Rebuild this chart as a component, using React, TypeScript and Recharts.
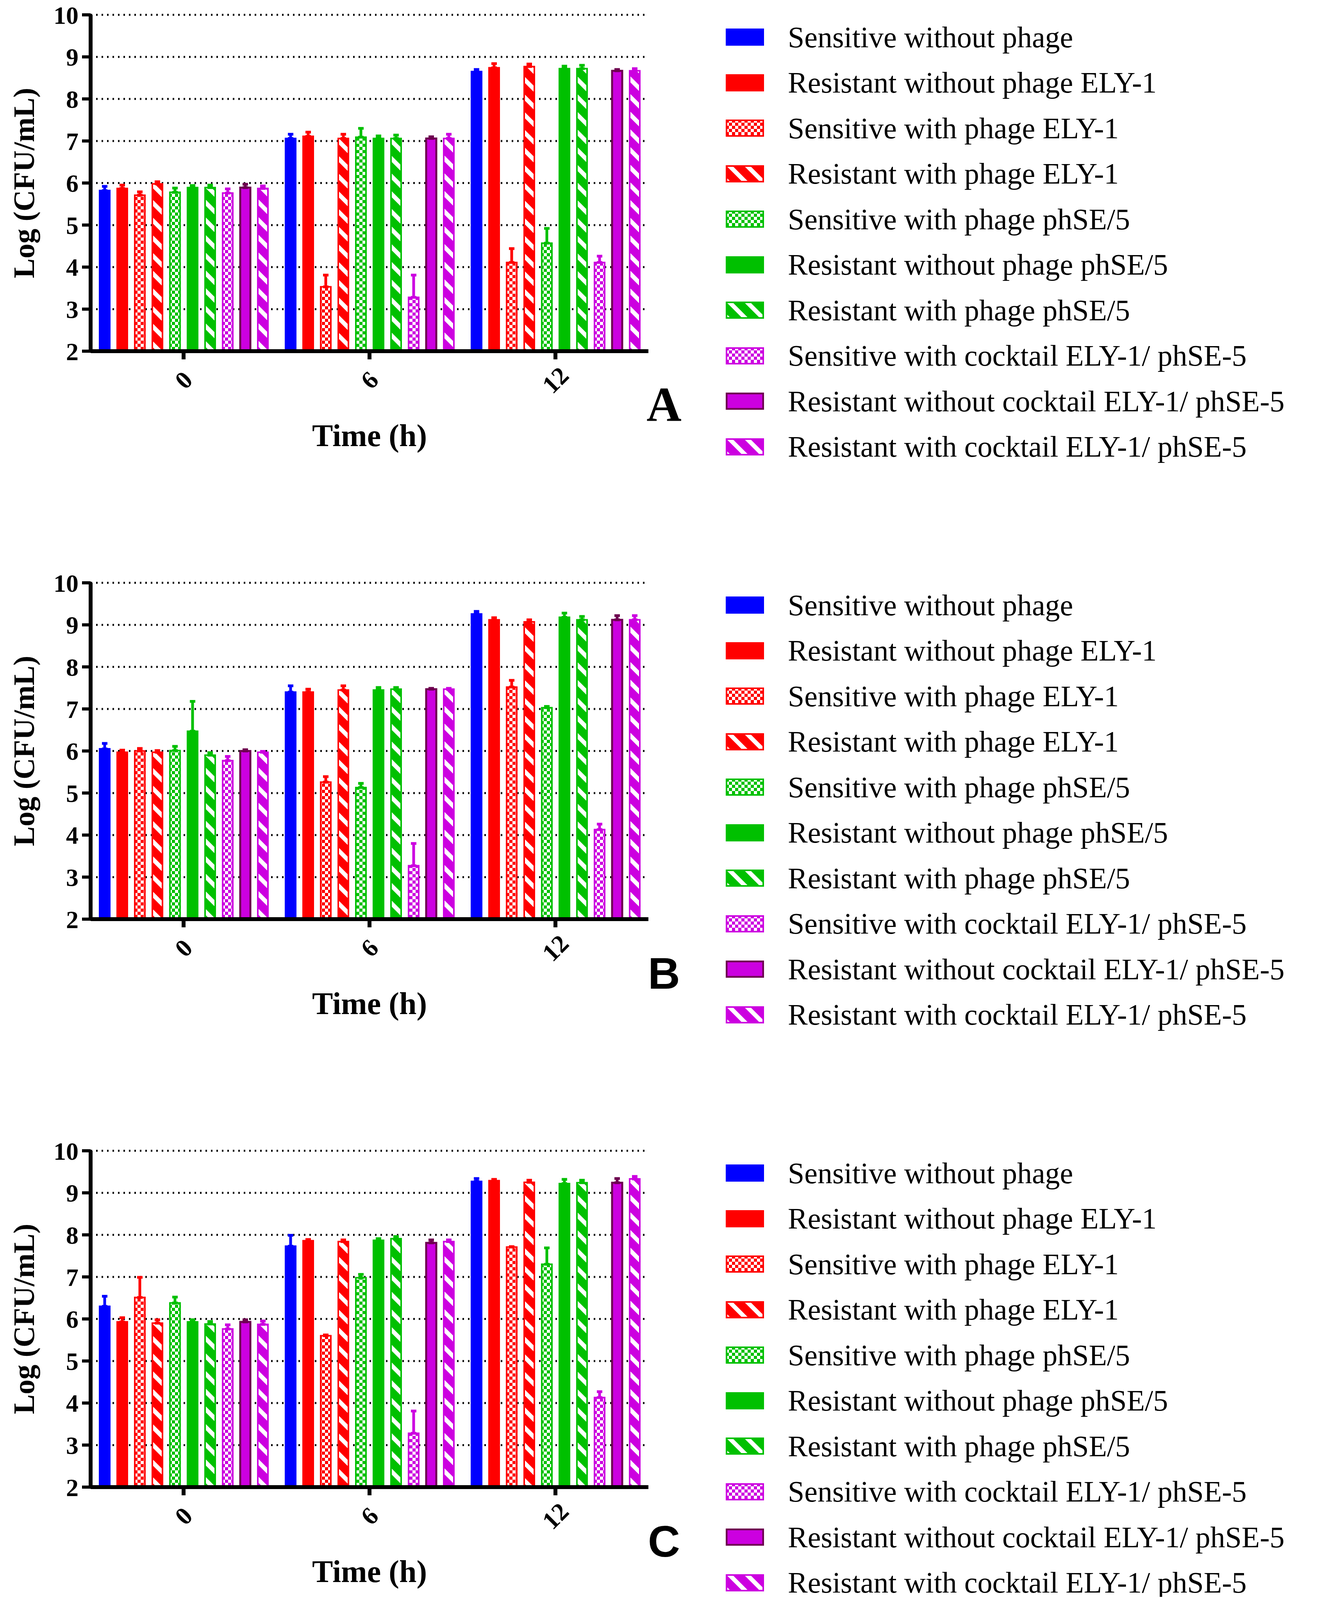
import React from 'react';
import { BarChart, Bar, XAxis, YAxis, CartesianGrid, ErrorBar, Legend } from 'recharts';

// sampling times (h)
const TIMES = ['0', '6', '12'];

const SERIES = [
    'Sensitive without phage',
    'Resistant without phage ELY-1',
    'Sensitive with phage ELY-1',
    'Resistant with phage ELY-1',
    'Sensitive with phage phSE/5',
    'Resistant without phage phSE/5',
    'Resistant with phage phSE/5',
    'Sensitive with cocktail ELY-1/ phSE-5',
    'Resistant without cocktail ELY-1/ phSE-5',
    'Resistant with cocktail ELY-1/ phSE-5',
];

const Y_TICKS = [2, 3, 4, 5, 6, 7, 8, 9, 10];

// Panel A, mean log CFU/mL and upper error, per series
const A_MEAN_0 = [5.82, 5.87, 5.71, 5.98, 5.78, 5.89, 5.89, 5.76, 5.89, 5.87];
const A_ERR_0 = [0.1, 0.08, 0.08, 0.05, 0.1, 0.05, 0.06, 0.1, 0.08, 0.06];
const A_MEAN_6 = [7.06, 7.11, 3.53, 7.06, 7.09, 7.06, 7.06, 3.28, 7.06, 7.06];
const A_ERR_6 = [0.1, 0.1, 0.28, 0.1, 0.21, 0.06, 0.08, 0.53, 0.04, 0.1];
const A_MEAN_12 = [8.65, 8.74, 4.11, 8.77, 4.57, 8.72, 8.72, 4.11, 8.67, 8.67];
const A_ERR_12 = [0.05, 0.1, 0.33, 0.06, 0.35, 0.06, 0.08, 0.15, 0.03, 0.05];

// Panel B
const B_MEAN_0 = [6.05, 5.97, 6.0, 5.97, 6.01, 6.47, 5.9, 5.77, 6.0, 5.97];
const B_ERR_0 = [0.13, 0.05, 0.06, 0.04, 0.1, 0.71, 0.06, 0.1, 0.03, 0.02];
const B_MEAN_6 = [7.4, 7.4, 5.26, 7.45, 5.13, 7.45, 7.47, 3.27, 7.47, 7.47];
const B_ERR_6 = [0.15, 0.07, 0.13, 0.1, 0.1, 0.06, 0.04, 0.53, 0.02, 0.02];
const B_MEAN_12 = [9.26, 9.12, 7.52, 9.07, 7.03, 9.18, 9.12, 4.13, 9.12, 9.12];
const B_ERR_12 = [0.06, 0.05, 0.16, 0.05, 0.03, 0.1, 0.08, 0.13, 0.1, 0.1];

// Panel C
const C_MEAN_0 = [6.3, 5.93, 6.51, 5.9, 6.38, 5.93, 5.88, 5.76, 5.93, 5.87];
const C_ERR_0 = [0.24, 0.1, 0.48, 0.08, 0.14, 0.05, 0.06, 0.1, 0.05, 0.08];
const C_MEAN_6 = [7.73, 7.86, 5.6, 7.84, 6.98, 7.87, 7.91, 3.28, 7.81, 7.84];
const C_ERR_6 = [0.26, 0.03, 0.02, 0.04, 0.08, 0.04, 0.05, 0.53, 0.07, 0.04];
const C_MEAN_12 = [9.27, 9.29, 7.71, 9.25, 7.3, 9.22, 9.24, 4.13, 9.24, 9.33];
const C_ERR_12 = [0.07, 0.03, 0.01, 0.05, 0.39, 0.1, 0.06, 0.14, 0.1, 0.06];

// styles
const SERIF = "'Liberation Serif', 'Times New Roman', serif";
const SANS = "'Liberation Sans', Arial, sans-serif";
const SERIES_COLOR = ['#0000ff', '#ff0000', '#ff0000', '#ff0000', '#00c000', '#00c000', '#00c000', '#cc00e0', '#cc00e0', '#cc00e0'];
const SERIES_KIND = ['solid', 'solid', 'check', 'stripe', 'check', 'solid', 'stripe', 'check', 'solid', 'stripe'];
const DARK_PURPLE = '#6e0050';
const PATTERN_COLORS: Record<string, string> = { red: '#ff0000', green: '#00c000', mag: '#cc00e0' };

// the viewport only shows 4096px, so the vertical layout is squeezed to fit
const W = 3405;
const H = 4096;
const SY = H / 4466;
const PANEL_H = Math.round(1585 * SY);
const PLOT_TOP = Math.round(41 * SY);
const PLOT_BOTTOM = Math.round(980 * SY);
const X_AXIS_H = 300;
const ROW_H = 127 * SY;

function colorKey(c: string) {
    return Object.keys(PATTERN_COLORS).find(k => PATTERN_COLORS[k] === c) || 'red';
}

function fillFor(prefix: string, i: number) {
    const kind = SERIES_KIND[i];
    if (kind === 'solid') return SERIES_COLOR[i];
    return `url(#${prefix}-${kind}-${colorKey(SERIES_COLOR[i])})`;
}

function strokeFor(i: number) {
    return i === 8 ? DARK_PURPLE : SERIES_COLOR[i];
}

const seriesIndex = (item: any) => Number(String(item.dataKey).slice(1));

function buildRows(means: number[][], errs: number[][]) {
    return TIMES.map((t, ti) => {
        const row: any = { time: t };
        SERIES.forEach((_, si) => {
            row['s' + si] = means[ti][si];
            row['e' + si] = [0, errs[ti][si]];
        });
        return row;
    });
}

const PatternDefs = ({ prefix }: { prefix: string }) => (
    <defs>
        {Object.keys(PATTERN_COLORS).map(k => (
            <React.Fragment key={k}>
                <pattern id={`${prefix}-check-${k}`} patternUnits="userSpaceOnUse" width={16} height={16}>
                    <rect width={16} height={16} fill="#fff" />
                    <rect width={8} height={8} fill={PATTERN_COLORS[k]} />
                    <rect x={8} y={8} width={8} height={8} fill={PATTERN_COLORS[k]} />
                </pattern>
                <pattern id={`${prefix}-stripe-${k}`} patternUnits="userSpaceOnUse" width={32} height={32} patternTransform="rotate(-45)">
                    <rect width={32} height={32} fill={PATTERN_COLORS[k]} />
                    <rect width={11} height={32} fill="#fff" />
                </pattern>
            </React.Fragment>
        ))}
    </defs>
);

const XTick = ({ x, y, payload }: any) => {
    const cy = y + 53;
    return (
        <text x={x} y={cy} transform={`rotate(-45 ${x} ${cy})`} textAnchor="middle" dominantBaseline="central"
            fontFamily={SERIF} fontWeight="bold" fontSize={64} fill="#000">
            {payload.value}
        </text>
    );
};

const YLabel = (props: any) => {
    const vb = props.viewBox || {};
    const cy = vb.height ? vb.y + vb.height / 2 : (PLOT_TOP + PLOT_BOTTOM) / 2;
    const x = 87;
    return (
        <text x={x} y={cy} transform={`rotate(-90 ${x} ${cy})`} textAnchor="middle"
            fontFamily={SERIF} fontWeight="bold" fontSize={76} fill="#000">
            Log (CFU/mL)
        </text>
    );
};

const makeLegend = (prefix: string) => (props: any) => {
    const items = [...(props.payload || [])].sort((a: any, b: any) => seriesIndex(a) - seriesIndex(b));
    return (
        <div style={{ paddingTop: 104 * SY - ROW_H / 2, paddingLeft: 198 }}>
            {items.map((entry: any) => {
                const i = seriesIndex(entry);
                return (
                    <div key={i} style={{ height: ROW_H, display: 'flex', alignItems: 'center' }}>
                        <svg width={98} height={44} style={{ flex: 'none' }}>
                            <rect x={2} y={2} width={94} height={40} fill={fillFor(prefix, i)}
                                stroke={strokeFor(i)} strokeWidth={i === 8 ? 5 : 4} />
                        </svg>
                        <span style={{ marginLeft: 61, fontFamily: SERIF, fontSize: 76, color: '#000', whiteSpace: 'nowrap' }}>
                            {entry.value}
                        </span>
                    </div>
                );
            })}
        </div>
    );
};

interface PanelProps {
    prefix: string;
    letter: string;
    letterFont: string;
    means: number[][];
    errs: number[][];
}

function Panel({ prefix, letter, letterFont, means, errs }: PanelProps) {
    const rows = buildRows(means, errs);
    return (
        <BarChart
            width={W}
            height={PANEL_H}
            data={rows}
            margin={{ top: PLOT_TOP, right: 0, bottom: PANEL_H - PLOT_BOTTOM - X_AXIS_H, left: 0 }}
            barSize={26}
            barGap={19}
        >
            <PatternDefs prefix={prefix} />
            <CartesianGrid vertical={false} stroke="#000" strokeWidth={5} strokeDasharray="4 10" />
            <XAxis
                dataKey="time"
                interval={0}
                height={X_AXIS_H}
                axisLine={{ stroke: '#000', strokeWidth: 10 }}
                tickLine={{ stroke: '#000', strokeWidth: 10 }}
                tickSize={21}
                tickMargin={0}
                tick={<XTick />}
                label={{
                    value: 'Time (h)', position: 'insideTop', offset: 186,
                    fill: '#000', fontSize: 80, fontWeight: 'bold', fontFamily: SERIF,
                }}
            />
            <YAxis
                type="number"
                domain={[2, 10]}
                ticks={Y_TICKS}
                interval={0}
                allowDataOverflow
                width={232}
                axisLine={{ stroke: '#000', strokeWidth: 10 }}
                tickLine={{ stroke: '#000', strokeWidth: 8 }}
                tickSize={22}
                tickMargin={9}
                tick={{ fill: '#000', fontSize: 64, fontWeight: 'bold', fontFamily: SERIF }}
                label={<YLabel />}
            />
            <Legend
                layout="vertical"
                align="right"
                verticalAlign="top"
                itemSorter={seriesIndex}
                wrapperStyle={{ left: 1660, top: 0, width: W - 1660 }}
                content={makeLegend(prefix)}
            />
            {SERIES.map((name, i) => (
                <Bar
                    key={name}
                    dataKey={'s' + i}
                    name={name}
                    fill={fillFor(prefix, i)}
                    stroke={strokeFor(i)}
                    strokeWidth={i === 8 ? 5 : 4}
                    isAnimationActive={false}
                >
                    <ErrorBar dataKey={'e' + i} direction="y" width={7} stroke={strokeFor(i)} strokeWidth={7} isAnimationActive={false} />
                </Bar>
            ))}
            <text x={1700} y={Math.round(1174 * SY)} textAnchor="middle" fontFamily={letterFont} fontWeight="bold"
                fontSize={letterFont === SERIF ? 124 : 114} fill="#000">
                {letter}
            </text>
        </BarChart>
    );
}

export default function App() {
    return (
        <div style={{ width: W, height: H, margin: -8, overflow: 'hidden', background: '#fff' }}>
            <Panel prefix="pa" letter="A" letterFont={SERIF}
                means={[A_MEAN_0, A_MEAN_6, A_MEAN_12]} errs={[A_ERR_0, A_ERR_6, A_ERR_12]} />
            <Panel prefix="pb" letter="B" letterFont={SANS}
                means={[B_MEAN_0, B_MEAN_6, B_MEAN_12]} errs={[B_ERR_0, B_ERR_6, B_ERR_12]} />
            <Panel prefix="pc" letter="C" letterFont={SANS}
                means={[C_MEAN_0, C_MEAN_6, C_MEAN_12]} errs={[C_ERR_0, C_ERR_6, C_ERR_12]} />
        </div>
    );
}
